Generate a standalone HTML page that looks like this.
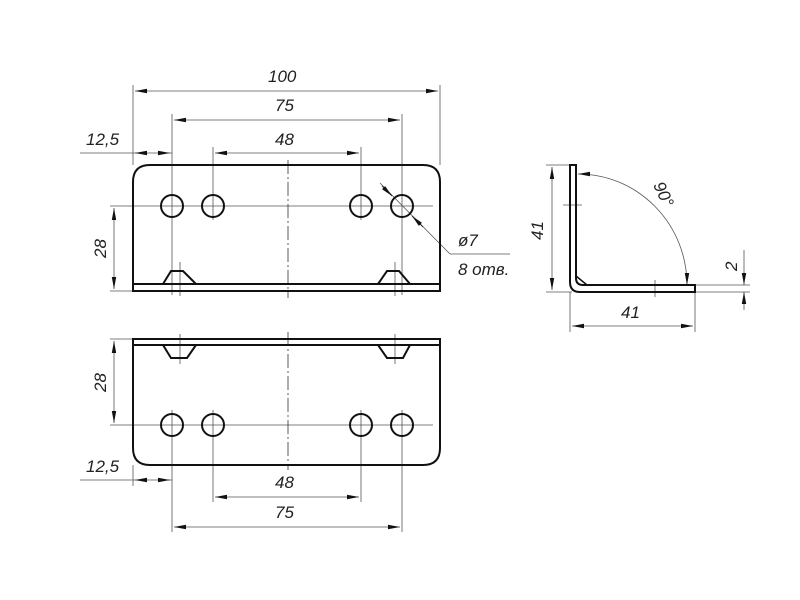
<!DOCTYPE html>
<html><head><meta charset="utf-8"><style>
html,body{margin:0;padding:0;background:#fff;width:800px;height:600px;overflow:hidden}
text{font-family:"Liberation Sans",sans-serif;font-style:italic;font-size:17px;fill:#222}
</style></head><body>
<svg width="800" height="600" viewBox="0 0 800 600" xmlns="http://www.w3.org/2000/svg">
<defs>
<marker id="a" viewBox="0 0 12 6" refX="12" refY="3" markerWidth="12" markerHeight="6" orient="auto-start-reverse" markerUnits="userSpaceOnUse"><path d="M0,0.8 L12,3 L0,5.2z" fill="#111"/></marker>
</defs>
<g stroke="#555" stroke-width="0.8" fill="none">
<line x1="133" y1="85" x2="133" y2="165"/><line x1="440" y1="85" x2="440" y2="165"/>
<line x1="135" y1="91" x2="438" y2="91" marker-start="url(#a)" marker-end="url(#a)"/>
<line x1="172" y1="114" x2="172" y2="295"/><line x1="402" y1="114" x2="402" y2="295"/>
<line x1="174" y1="120" x2="400" y2="120" marker-start="url(#a)" marker-end="url(#a)"/>
<line x1="213" y1="147" x2="213" y2="220"/><line x1="361" y1="147" x2="361" y2="220"/>
<line x1="215" y1="153" x2="359" y2="153" marker-start="url(#a)" marker-end="url(#a)"/>
<line x1="80" y1="153" x2="172" y2="153"/>
<line x1="147" y1="153" x2="135" y2="153" marker-end="url(#a)"/>
<line x1="158" y1="153" x2="170" y2="153" marker-end="url(#a)"/>
<line x1="110" y1="206" x2="433" y2="206"/>
<line x1="110" y1="291" x2="133" y2="291"/>
<line x1="114" y1="208" x2="114" y2="289" marker-start="url(#a)" marker-end="url(#a)"/>
<line x1="180" y1="262" x2="180" y2="296"/><line x1="395" y1="262" x2="395" y2="296"/>
<line x1="380" y1="183" x2="450" y2="254"/><line x1="450" y1="254" x2="510" y2="254"/>
<line x1="110" y1="339" x2="133" y2="339"/>
<line x1="110" y1="425" x2="433" y2="425"/>
<line x1="114" y1="341" x2="114" y2="423" marker-start="url(#a)" marker-end="url(#a)"/>
<line x1="180" y1="334" x2="180" y2="364"/><line x1="395" y1="334" x2="395" y2="364"/>
<line x1="133" y1="465" x2="133" y2="486"/>
<line x1="172" y1="410" x2="172" y2="532"/><line x1="402" y1="410" x2="402" y2="532"/>
<line x1="213" y1="410" x2="213" y2="502"/><line x1="361" y1="410" x2="361" y2="502"/>
<line x1="80" y1="480" x2="172" y2="480"/>
<line x1="147" y1="480" x2="135" y2="480" marker-end="url(#a)"/>
<line x1="158" y1="480" x2="170" y2="480" marker-end="url(#a)"/>
<line x1="215" y1="497" x2="359" y2="497" marker-start="url(#a)" marker-end="url(#a)"/>
<line x1="174" y1="527" x2="400" y2="527" marker-start="url(#a)" marker-end="url(#a)"/>
<line x1="546" y1="165" x2="572" y2="165"/><line x1="546" y1="292" x2="572" y2="292"/>
<line x1="552" y1="167" x2="552" y2="290" marker-start="url(#a)" marker-end="url(#a)"/>
<line x1="563" y1="205" x2="582" y2="205"/>
<line x1="570" y1="292" x2="570" y2="332"/><line x1="695" y1="292" x2="695" y2="332"/>
<line x1="572" y1="326" x2="693" y2="326" marker-start="url(#a)" marker-end="url(#a)"/>
<line x1="655" y1="280" x2="655" y2="297"/>
<line x1="695" y1="285" x2="750" y2="285"/><line x1="695" y1="292" x2="750" y2="292"/>
<line x1="744" y1="250" x2="744" y2="285" marker-end="url(#a)"/>
<line x1="744" y1="310" x2="744" y2="292" marker-end="url(#a)"/>
<path d="M578,174 A109,111 0 0 1 687,285" marker-start="url(#a)" marker-end="url(#a)"/>
</g>
<g stroke="#333" stroke-width="0.8" stroke-dasharray="14,3,2,3" fill="none">
<line x1="288" y1="160" x2="288" y2="298"/>
<line x1="288" y1="332" x2="288" y2="470"/>
</g>
<g stroke="#111" stroke-width="0.8">
<line x1="382" y1="186" x2="392" y2="196" marker-end="url(#a)"/>
<line x1="423" y1="227" x2="412" y2="216" marker-end="url(#a)"/>
</g>
<g stroke="#111" stroke-width="2" fill="none">
<path d="M133,291 V182 Q133,165 150,165 H423 Q440,165 440,182 V291 Z"/>
<line x1="133" y1="284" x2="440" y2="284"/>
<path d="M163,284 L171,271 H183 L196,284"/>
<path d="M378,284 L387,271 H399 L410,284"/>
<circle cx="172" cy="206" r="11"/><circle cx="213" cy="206" r="11"/>
<circle cx="361" cy="206" r="11"/><circle cx="402" cy="206" r="11"/>
<path d="M133,339 V448 Q133,465 150,465 H423 Q440,465 440,448 V339 Z"/>
<line x1="133" y1="345" x2="440" y2="345"/>
<path d="M163,345 L171,358 H187 L196,345"/>
<path d="M378,345 L387,358 H403 L410,345"/>
<circle cx="172" cy="425" r="11"/><circle cx="213" cy="425" r="11"/>
<circle cx="361" cy="425" r="11"/><circle cx="402" cy="425" r="11"/>
<path d="M570,165 H576 V278 Q576,285 583,285 H695 V292 H580 Q570,292 570,282 Z"/>
<path d="M576,276 L587,285" stroke-width="1.5"/>
</g>
<text x="268" y="82">100</text>
<text x="275" y="111">75</text>
<text x="275" y="145">48</text>
<text x="86" y="145">12,5</text>
<text x="86" y="472">12,5</text>
<text x="275" y="488">48</text>
<text x="275" y="518">75</text>
<text x="458" y="246">ø7</text>
<text x="458" y="275">8 отв.</text>
<text x="621" y="318">41</text>
<text transform="translate(106,258) rotate(-90)">28</text>
<text transform="translate(106,392) rotate(-90)">28</text>
<text transform="translate(543,240) rotate(-90)">41</text>
<text transform="translate(737,271) rotate(-90)">2</text>
<text transform="translate(653,185) rotate(65)">90°</text>
</svg>
</body></html>
